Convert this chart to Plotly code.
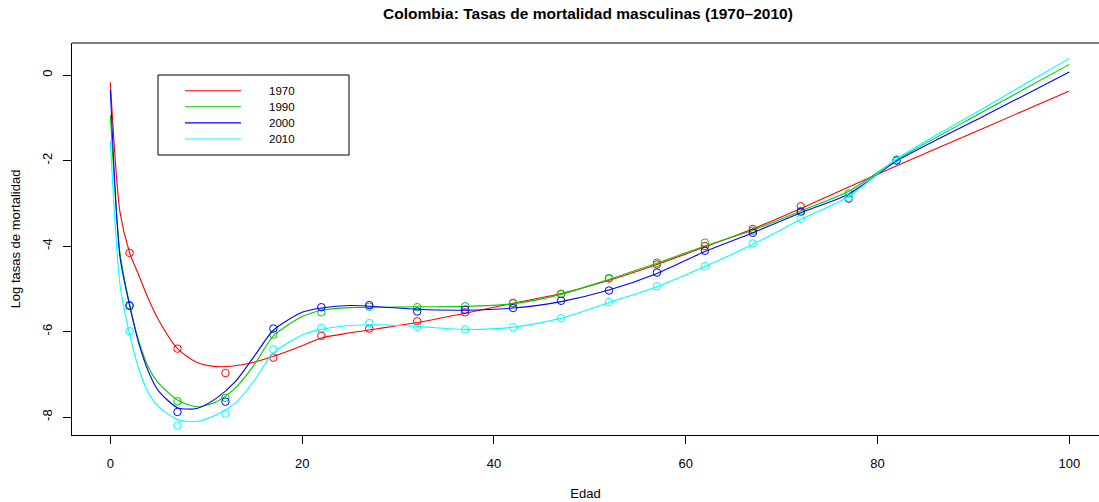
import plotly.graph_objects as go

# ---------------- data ----------------
series_names = ["1970", "1990", "2000", "2010"]
series_colors = ["#FF0000", "#00CD00", "#0000FF", "#00FFFF"]

# fitted curves (values read at these ages)
curve_ages = [0, 1, 2, 3, 4, 5, 7, 9, 11, 13, 15, 17, 20, 22, 25, 28, 32, 37,
              42, 47, 52, 57, 62, 67, 72, 77, 82, 91, 100]
curve_1970 = [-0.17, -3.20, -4.15, -4.70, -5.25, -5.72, -6.40, -6.72, -6.82, -6.80,
              -6.72, -6.58, -6.33, -6.15, -6.03, -5.93, -5.79, -5.57, -5.34, -5.11,
              -4.80, -4.43, -4.02, -3.60, -3.12, -2.62, -2.12, -1.25, -0.37]
curve_1990 = [-0.94, -4.15, -5.35, -6.25, -6.85, -7.20, -7.60, -7.76, -7.65, -7.33,
              -6.78, -6.10, -5.65, -5.50, -5.44, -5.43, -5.42, -5.41, -5.35, -5.13,
              -4.78, -4.40, -4.00, -3.63, -3.18, -2.72, -1.98, -0.86, 0.25]
curve_2000 = [-0.35, -4.25, -5.38, -6.30, -6.95, -7.38, -7.78, -7.80, -7.57, -7.18,
              -6.58, -5.97, -5.55, -5.45, -5.39, -5.42, -5.48, -5.50, -5.45, -5.30,
              -5.03, -4.64, -4.13, -3.69, -3.22, -2.78, -2.01, -0.97, 0.07]
curve_2010 = [-1.55, -4.90, -6.05, -6.90, -7.45, -7.75, -8.06, -8.10, -7.95, -7.68,
              -7.15, -6.50, -6.08, -5.95, -5.86, -5.84, -5.88, -5.95, -5.90, -5.69,
              -5.32, -4.95, -4.48, -3.96, -3.38, -2.84, -1.96, -0.78, 0.39]

# observed log rates (age-group midpoints)
point_ages = [2, 7, 12, 17, 22, 27, 32, 37, 42, 47, 52, 57, 62, 67, 72, 77, 82]
points_1970 = [-4.16, -6.40, -6.97, -6.61, -6.10, -5.93, -5.76, -5.55, -5.33, -5.12,
               -4.76, -4.43, -4.00, -3.60, -3.07]
points_1990 = [-5.38, -7.63, -7.55, -6.07, -5.55, -5.42, -5.43, -5.41, -5.34, -5.12,
               -4.75, -4.39, -3.92, -3.64, -3.18, -2.77, -1.98]
points_2000 = [-5.40, -7.88, -7.64, -5.93, -5.43, -5.38, -5.53, -5.49, -5.45, -5.28,
               -5.04, -4.62, -4.11, -3.69, -3.20, -2.89, -2.00]
points_2010 = [-5.99, -8.20, -7.92, -6.42, -5.92, -5.80, -5.89, -5.95, -5.90, -5.69,
               -5.31, -4.94, -4.47, -3.94, -3.36, -2.87, -1.97]

x_tick_vals = [0, 20, 40, 60, 80, 100]
y_tick_vals = [-8, -6, -4, -2, 0]
y_tick_text = ["-8", "-6", "-4", "-2", "0"]

title_text = "Colombia: Tasas de mortalidad masculinas (1970\u20132010)"
x_title = "Edad"
y_title = "Log tasas de mortalidad"

curves = [curve_1970, curve_1990, curve_2000, curve_2010]
points = [points_1970, points_1990, points_2000, points_2010]

# ---------------- figure ----------------
W, H = 1099, 502
ML, MR, MT, MB = 72, 0, 43, 67
PW, PH = W - ML - MR, H - MT - MB
FONT = "Liberation Sans, Arial, Helvetica, sans-serif"


def px_x(px):
    return (px - ML) / PW


def px_y(py):
    return (H - MB - py) / PH


fig = go.Figure()
for name, color, cv, pv in zip(series_names, series_colors, curves, points):
    fig.add_trace(go.Scatter(
        x=point_ages[:len(pv)], y=pv, mode="markers", name=name,
        marker=dict(symbol="circle-open", size=7.5, color=color,
                    line=dict(width=1, color=color)),
        showlegend=False, hoverinfo="x+y"))
    fig.add_trace(go.Scatter(
        x=curve_ages, y=cv, mode="lines", name=name,
        line=dict(color=color, width=1.1, shape="spline", smoothing=0.7),
        showlegend=False))

# manual R-style legend
shapes = [
    dict(type="rect", xref="paper", yref="paper",
         x0=px_x(158), x1=px_x(349), y0=px_y(155), y1=px_y(75),
         line=dict(color="black", width=1), fillcolor="white", layer="below"),
    # top frame line (plot box; right edge lies outside the picture)
    dict(type="line", xref="paper", yref="paper", x0=0, x1=1, y0=1, y1=1,
         line=dict(color="black", width=1)),
]
annotations = []
for i, (name, color) in enumerate(zip(series_names, series_colors)):
    yy = 90.7 + i * 16.1
    shapes.append(dict(type="line", xref="paper", yref="paper",
                       x0=px_x(185), x1=px_x(241), y0=px_y(yy), y1=px_y(yy),
                       line=dict(color=color, width=1.1)))
    annotations.append(dict(text=name, xref="paper", yref="paper",
                            x=px_x(267), y=px_y(yy), xanchor="left", yanchor="middle",
                            showarrow=False, font=dict(size=11.5, color="black", family=FONT)))

fig.update_layout(
    width=W, height=H,
    margin=dict(l=ML, r=MR, t=MT, b=MB, pad=0),
    paper_bgcolor="white", plot_bgcolor="white",
    font=dict(family=FONT, size=13, color="black"),
    title=dict(text="<b>" + title_text + "</b>", x=px_x(588), xref="paper", xanchor="center",
               y=1 - 14 / H, yref="container", yanchor="middle",
               font=dict(size=15.5, family=FONT, color="black")),
    shapes=shapes, annotations=annotations,
    showlegend=False,
    xaxis=dict(range=[-4, 103.1], tickvals=x_tick_vals, ticks="outside", ticklen=8,
               tickcolor="black", showline=True, linecolor="black", linewidth=1,
               showgrid=False, zeroline=False, tickfont=dict(size=13),
               ticklabelstandoff=8,
               title=dict(text=x_title, font=dict(size=13), standoff=19)),
    yaxis=dict(range=[-8.42, 0.75], tickvals=y_tick_vals, ticktext=y_tick_text,
               ticks="outside", ticklen=8, tickcolor="black", tickangle=-90,
               showline=True, linecolor="black", linewidth=1,
               showgrid=False, zeroline=False, tickfont=dict(size=13),
               ticklabelstandoff=6,
               title=dict(text=y_title, font=dict(size=13), standoff=16)),
)

fig.write_html(
    "out.html",
    config={"displayModeBar": False},
    post_script="document.body.style.margin='0px';document.body.style.overflow='hidden';",
)
